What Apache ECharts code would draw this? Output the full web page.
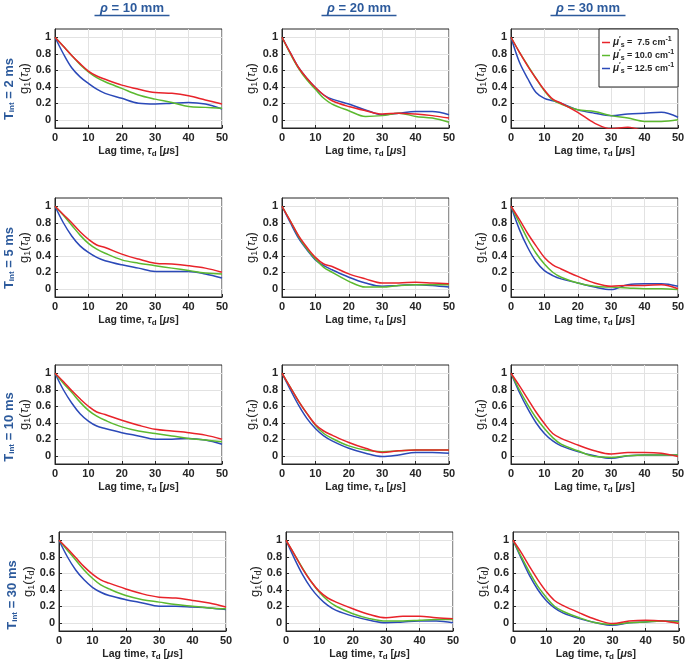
<!DOCTYPE html>
<html><head><meta charset="utf-8">
<script src="https://cdn.jsdelivr.net/npm/echarts@6/dist/echarts.min.js"></script>
<style>html,body{margin:0;padding:0;background:#fff}#c{width:688px;height:666px}</style>
</head><body><div id="c"></div>
<script>
// ---- data ----
const tauLag = [0,2.5,5,7.5,10,12.5,15,20,25,30,35,40,45,50];
const yTicks = [0,0.2,0.4,0.6,0.8,1];
const xTicks = [0,10,20,30,40,50];
const rhoLabels = ['10 mm','20 mm','30 mm'];
const tintLabels = ['2 ms','5 ms','10 ms','30 ms'];
const musLabels = ['7.5','10.0','12.5'];

const p11_red   = [1.00,0.89,0.78,0.68,0.59,0.53,0.49,0.42,0.37,0.33,0.32,0.29,0.24,0.19];
const p11_green = [1.00,0.89,0.78,0.67,0.58,0.51,0.46,0.38,0.30,0.25,0.21,0.16,0.15,0.14];
const p11_blue  = [1.00,0.80,0.63,0.52,0.44,0.37,0.32,0.26,0.20,0.19,0.20,0.21,0.19,0.13];

const p12_red   = [1.00,0.81,0.63,0.50,0.39,0.30,0.23,0.16,0.11,0.07,0.08,0.07,0.05,0.02];
const p12_green = [1.00,0.80,0.62,0.48,0.37,0.26,0.19,0.11,0.04,0.05,0.08,0.04,0.02,-0.03];
const p12_blue  = [1.00,0.81,0.63,0.50,0.39,0.30,0.25,0.19,0.12,0.06,0.08,0.10,0.10,0.06];

const p13_red   = [1.00,0.82,0.65,0.50,0.36,0.25,0.20,0.09,-0.04,-0.11,-0.09,-0.14,-0.20,-0.22];
const p13_green = [1.00,0.82,0.66,0.50,0.35,0.24,0.19,0.12,0.10,0.05,0.02,-0.02,-0.02,0.00];
const p13_blue  = [1.00,0.70,0.50,0.33,0.26,0.23,0.20,0.12,0.08,0.05,0.07,0.08,0.09,0.03];

const p21_red   = [1.00,0.90,0.80,0.69,0.60,0.53,0.50,0.42,0.36,0.31,0.30,0.28,0.25,0.20];
const p21_green = [1.00,0.89,0.77,0.65,0.55,0.48,0.43,0.35,0.31,0.28,0.25,0.22,0.19,0.18];
const p21_blue  = [1.00,0.80,0.64,0.52,0.44,0.38,0.34,0.29,0.25,0.21,0.21,0.21,0.18,0.13];

const p22_red   = [1.00,0.82,0.64,0.50,0.38,0.30,0.27,0.18,0.12,0.07,0.07,0.08,0.07,0.06];
const p22_green = [1.00,0.82,0.63,0.48,0.36,0.26,0.20,0.09,0.02,0.02,0.04,0.05,0.05,0.05];
const p22_blue  = [1.00,0.80,0.61,0.47,0.35,0.28,0.23,0.14,0.07,0.03,0.04,0.05,0.04,0.02];

const p23_red   = [1.00,0.84,0.67,0.52,0.38,0.29,0.24,0.15,0.07,0.03,0.04,0.04,0.05,0.00];
const p23_green = [1.00,0.80,0.60,0.43,0.30,0.20,0.14,0.07,0.03,0.02,0.01,0.00,0.00,-0.01];
const p23_blue  = [1.00,0.72,0.50,0.33,0.22,0.16,0.12,0.07,0.02,-0.01,0.05,0.06,0.06,0.03];

const p31_red   = [1.00,0.90,0.79,0.69,0.60,0.53,0.50,0.43,0.37,0.32,0.30,0.28,0.25,0.20];
const p31_green = [1.00,0.88,0.77,0.65,0.55,0.48,0.43,0.35,0.30,0.27,0.24,0.21,0.19,0.17];
const p31_blue  = [1.00,0.80,0.64,0.51,0.42,0.36,0.33,0.28,0.24,0.20,0.20,0.21,0.19,0.14];

const p32_red   = [1.00,0.83,0.66,0.51,0.38,0.30,0.25,0.16,0.09,0.04,0.06,0.07,0.07,0.07];
const p32_green = [1.00,0.83,0.66,0.51,0.37,0.27,0.21,0.12,0.07,0.05,0.06,0.07,0.07,0.07];
const p32_blue  = [1.00,0.80,0.61,0.45,0.33,0.24,0.18,0.09,0.03,-0.01,0.01,0.04,0.04,0.03];

const p33_red   = [1.00,0.85,0.69,0.53,0.39,0.27,0.21,0.13,0.06,0.02,0.04,0.04,0.03,-0.01];
const p33_green = [1.00,0.80,0.62,0.46,0.33,0.22,0.14,0.06,-0.01,-0.02,0.00,0.01,0.01,0.01];
const p33_blue  = [1.00,0.77,0.57,0.40,0.27,0.18,0.12,0.05,0.00,-0.03,0.00,0.01,0.01,0.01];

const p41_red   = [1.00,0.90,0.79,0.68,0.59,0.52,0.48,0.41,0.35,0.31,0.30,0.27,0.24,0.19];
const p41_green = [1.00,0.88,0.76,0.64,0.54,0.46,0.41,0.33,0.28,0.25,0.22,0.20,0.18,0.17];
const p41_blue  = [1.00,0.80,0.64,0.52,0.43,0.37,0.33,0.28,0.24,0.20,0.20,0.19,0.18,0.16];

const p42_red   = [1.00,0.83,0.65,0.50,0.38,0.30,0.25,0.17,0.10,0.06,0.08,0.08,0.06,0.05];
const p42_green = [1.00,0.83,0.66,0.50,0.37,0.27,0.20,0.11,0.05,0.02,0.02,0.03,0.04,0.04];
const p42_blue  = [1.00,0.78,0.58,0.42,0.30,0.21,0.15,0.08,0.03,0.00,0.01,0.02,0.02,0.00];

const p43_red   = [1.00,0.85,0.68,0.52,0.38,0.27,0.21,0.12,0.04,-0.01,0.02,0.03,0.02,-0.01];
const p43_green = [1.00,0.80,0.61,0.44,0.31,0.20,0.14,0.06,0.00,-0.02,0.00,0.01,0.02,0.01];
const p43_blue  = [1.00,0.78,0.57,0.40,0.27,0.18,0.12,0.05,0.00,-0.03,0.00,0.01,0.02,0.02];

const panels = [
  [p11_red,p11_green,p11_blue],[p12_red,p12_green,p12_blue],[p13_red,p13_green,p13_blue],
  [p21_red,p21_green,p21_blue],[p22_red,p22_green,p22_blue],[p23_red,p23_green,p23_blue],
  [p31_red,p31_green,p31_blue],[p32_red,p32_green,p32_blue],[p33_red,p33_green,p33_blue],
  [p41_red,p41_green,p41_blue],[p42_red,p42_green,p42_blue],[p43_red,p43_green,p43_blue]
];

// ---- styling / layout ----
const FF = '"Liberation Sans", Arial, Helvetica, sans-serif';
const INK = '#262626';
const HEAD = '#2c5a9c';
const lineColors = ['#e8232a','#5cb92f','#2b49b8'];
const seriesNames = musLabels.map(v => "mu_s' = " + v);
const rowTops = [29,198,365,532];
const colLefts = [[55,282,511],[55,282,511],[55,282,511],[59,286,513]];
const gW = 167, gH = 99;

const grids = [], xAxes = [], yAxes = [], series = [];
for (let r = 0; r < 4; r++) {
  for (let c = 0; c < 3; c++) {
    const i = r*3 + c;
    grids.push({left: colLefts[r][c], top: rowTops[r], width: gW, height: gH,
      show: true, borderColor: INK, borderWidth: 1, backgroundColor: '#fff'});
    xAxes.push({
      gridIndex: i, type: 'value', min: 0, max: 50, interval: 10,
      axisLine: {show: true, onZero: false, lineStyle: {color: INK, width: 1}},
      axisTick: {show: true, inside: true, length: 3, lineStyle: {color: INK}},
      axisLabel: {color: INK, fontFamily: FF, fontWeight: 'bold', fontSize: 11, margin: 4},
      splitLine: {show: true, lineStyle: {color: '#e2e2e2', width: 1}},
      name: 'Lag time, {it|τ}{sub|d} [{mu|μ}s]', nameLocation: 'middle', nameGap: 17,
      nameTextStyle: {color: INK, fontFamily: FF, fontWeight: 'bold', fontSize: 10.5, lineHeight: 13,
        rich: {
          it: {fontFamily: FF, fontStyle: 'italic', fontSize: 10.5, color: INK, lineHeight: 13},
          mu: {fontFamily: FF, fontStyle: 'italic', fontSize: 10.5, color: INK, lineHeight: 13},
          sub: {fontFamily: FF, fontWeight: 'bold', fontSize: 8, color: INK, verticalAlign: 'bottom', lineHeight: 13, padding: [5,0,0,0]}
        }}
    });
    yAxes.push({
      gridIndex: i, type: 'value', min: -0.1, max: 1.1,
      axisLine: {show: true, onZero: false, lineStyle: {color: INK, width: 1}},
      axisTick: {show: true, inside: true, length: 3, lineStyle: {color: INK}, customValues: yTicks},
      axisLabel: {color: INK, fontFamily: FF, fontWeight: 'bold', fontSize: 11, margin: 4, customValues: yTicks,
        formatter: v => (Math.abs(v) < 1e-9 ? '0' : (Math.abs(v-1) < 1e-9 ? '1' : v.toFixed(1)))},
      splitLine: {show: true, lineStyle: {color: '#e2e2e2', width: 1}},
      name: 'g{sub|1}({it|τ}{sub|d})', nameLocation: 'middle', nameGap: 16,
      nameTextStyle: {color: INK, fontFamily: FF, fontSize: 13, lineHeight: 14,
        rich: {
          it: {fontFamily: FF, fontStyle: 'italic', fontSize: 13, color: INK, lineHeight: 14},
          sub: {fontFamily: FF, fontSize: 9, color: INK, verticalAlign: 'bottom', lineHeight: 14, padding: [5,0,0,0]}
        }}
    });
    panels[i].forEach((vals, k) => {
      series.push({
        type: 'line', name: seriesNames[k], xAxisIndex: i, yAxisIndex: i,
        data: tauLag.map((x, j) => [x, vals[j]]),
        smooth: 0.35, showSymbol: false, symbol: 'none', clip: true,
        lineStyle: {color: lineColors[k], width: 1.5}, itemStyle: {color: lineColors[k]},
        z: 3 - k, silent: true
      });
    });
  }
}

const graphics = [];
const headCenters = [132, 359, 588];
rhoLabels.forEach((t, c) => {
  graphics.push({type: 'text', x: headCenters[c], y: 8, style: {
    text: '{it|ρ} = ' + t, fill: HEAD, fontFamily: FF, fontWeight: 'bold', fontSize: 13,
    align: 'center', verticalAlign: 'middle',
    rich: {it: {fontFamily: FF, fontStyle: 'italic', fontWeight: 'bold', fontSize: 13, fill: HEAD}}}});
  graphics.push({type: 'line', shape: {x1: headCenters[c]-37.5, y1: 15.5, x2: headCenters[c]+37.5, y2: 15.5},
    style: {stroke: HEAD, lineWidth: 1.5}});
});
const rowLabelY = [89, 258, 427, 595];
const rowLabelX = [9, 9, 9, 12];
tintLabels.forEach((t, r) => {
  graphics.push({type: 'text', x: rowLabelX[r], y: rowLabelY[r], rotation: Math.PI/2, style: {
    text: 'T{sub|int} = ' + t, fill: HEAD, fontFamily: FF, fontWeight: 'bold', fontSize: 13,
    align: 'center', verticalAlign: 'middle',
    rich: {sub: {fontFamily: FF, fontWeight: 'bold', fontSize: 8, fill: HEAD, verticalAlign: 'bottom', padding: [6,0,0,0]}}}});
});

const legendRich = {
  mu: {fontFamily: FF, fontWeight: 'bold', fontStyle: 'italic', fontSize: 10, color: INK, lineHeight: 13},
  t: {fontFamily: FF, fontWeight: 'bold', fontSize: 9, color: INK, lineHeight: 13},
  sup: {fontFamily: FF, fontWeight: 'bold', fontSize: 7, color: INK, verticalAlign: 'top', lineHeight: 13, padding: [0,0,4,0]},
  sub: {fontFamily: FF, fontWeight: 'bold', fontSize: 7, color: INK, verticalAlign: 'bottom', lineHeight: 13, padding: [4,0,0,0]}
};

const chart = echarts.init(document.getElementById('c'), null, {renderer: 'canvas'});
chart.setOption({
  animation: false,
  backgroundColor: '#fff',
  grid: grids, xAxis: xAxes, yAxis: yAxes, series: series,
  legend: {
    data: seriesNames, orient: 'vertical', left: 599, top: 29,
    icon: 'rect', itemWidth: 8, itemHeight: 1.5, itemGap: 0,
    padding: [7, 4, 12, 3], borderColor: INK, borderWidth: 1, backgroundColor: '#fff',
    selectedMode: false,
    textStyle: {fontFamily: FF, fontWeight: 'bold', fontSize: 9, color: INK, padding: [0,0,0,-2], rich: legendRich},
    formatter: name => {
      const v = musLabels[seriesNames.indexOf(name)];
      const pad = v.length < 4 ? '  ' : ' ';
      return '{mu|μ}{sup|′}{sub|s}{t| =' + pad + v + ' cm}{sup|-1}';
    }
  },
  graphic: graphics
});
</script></body></html>
